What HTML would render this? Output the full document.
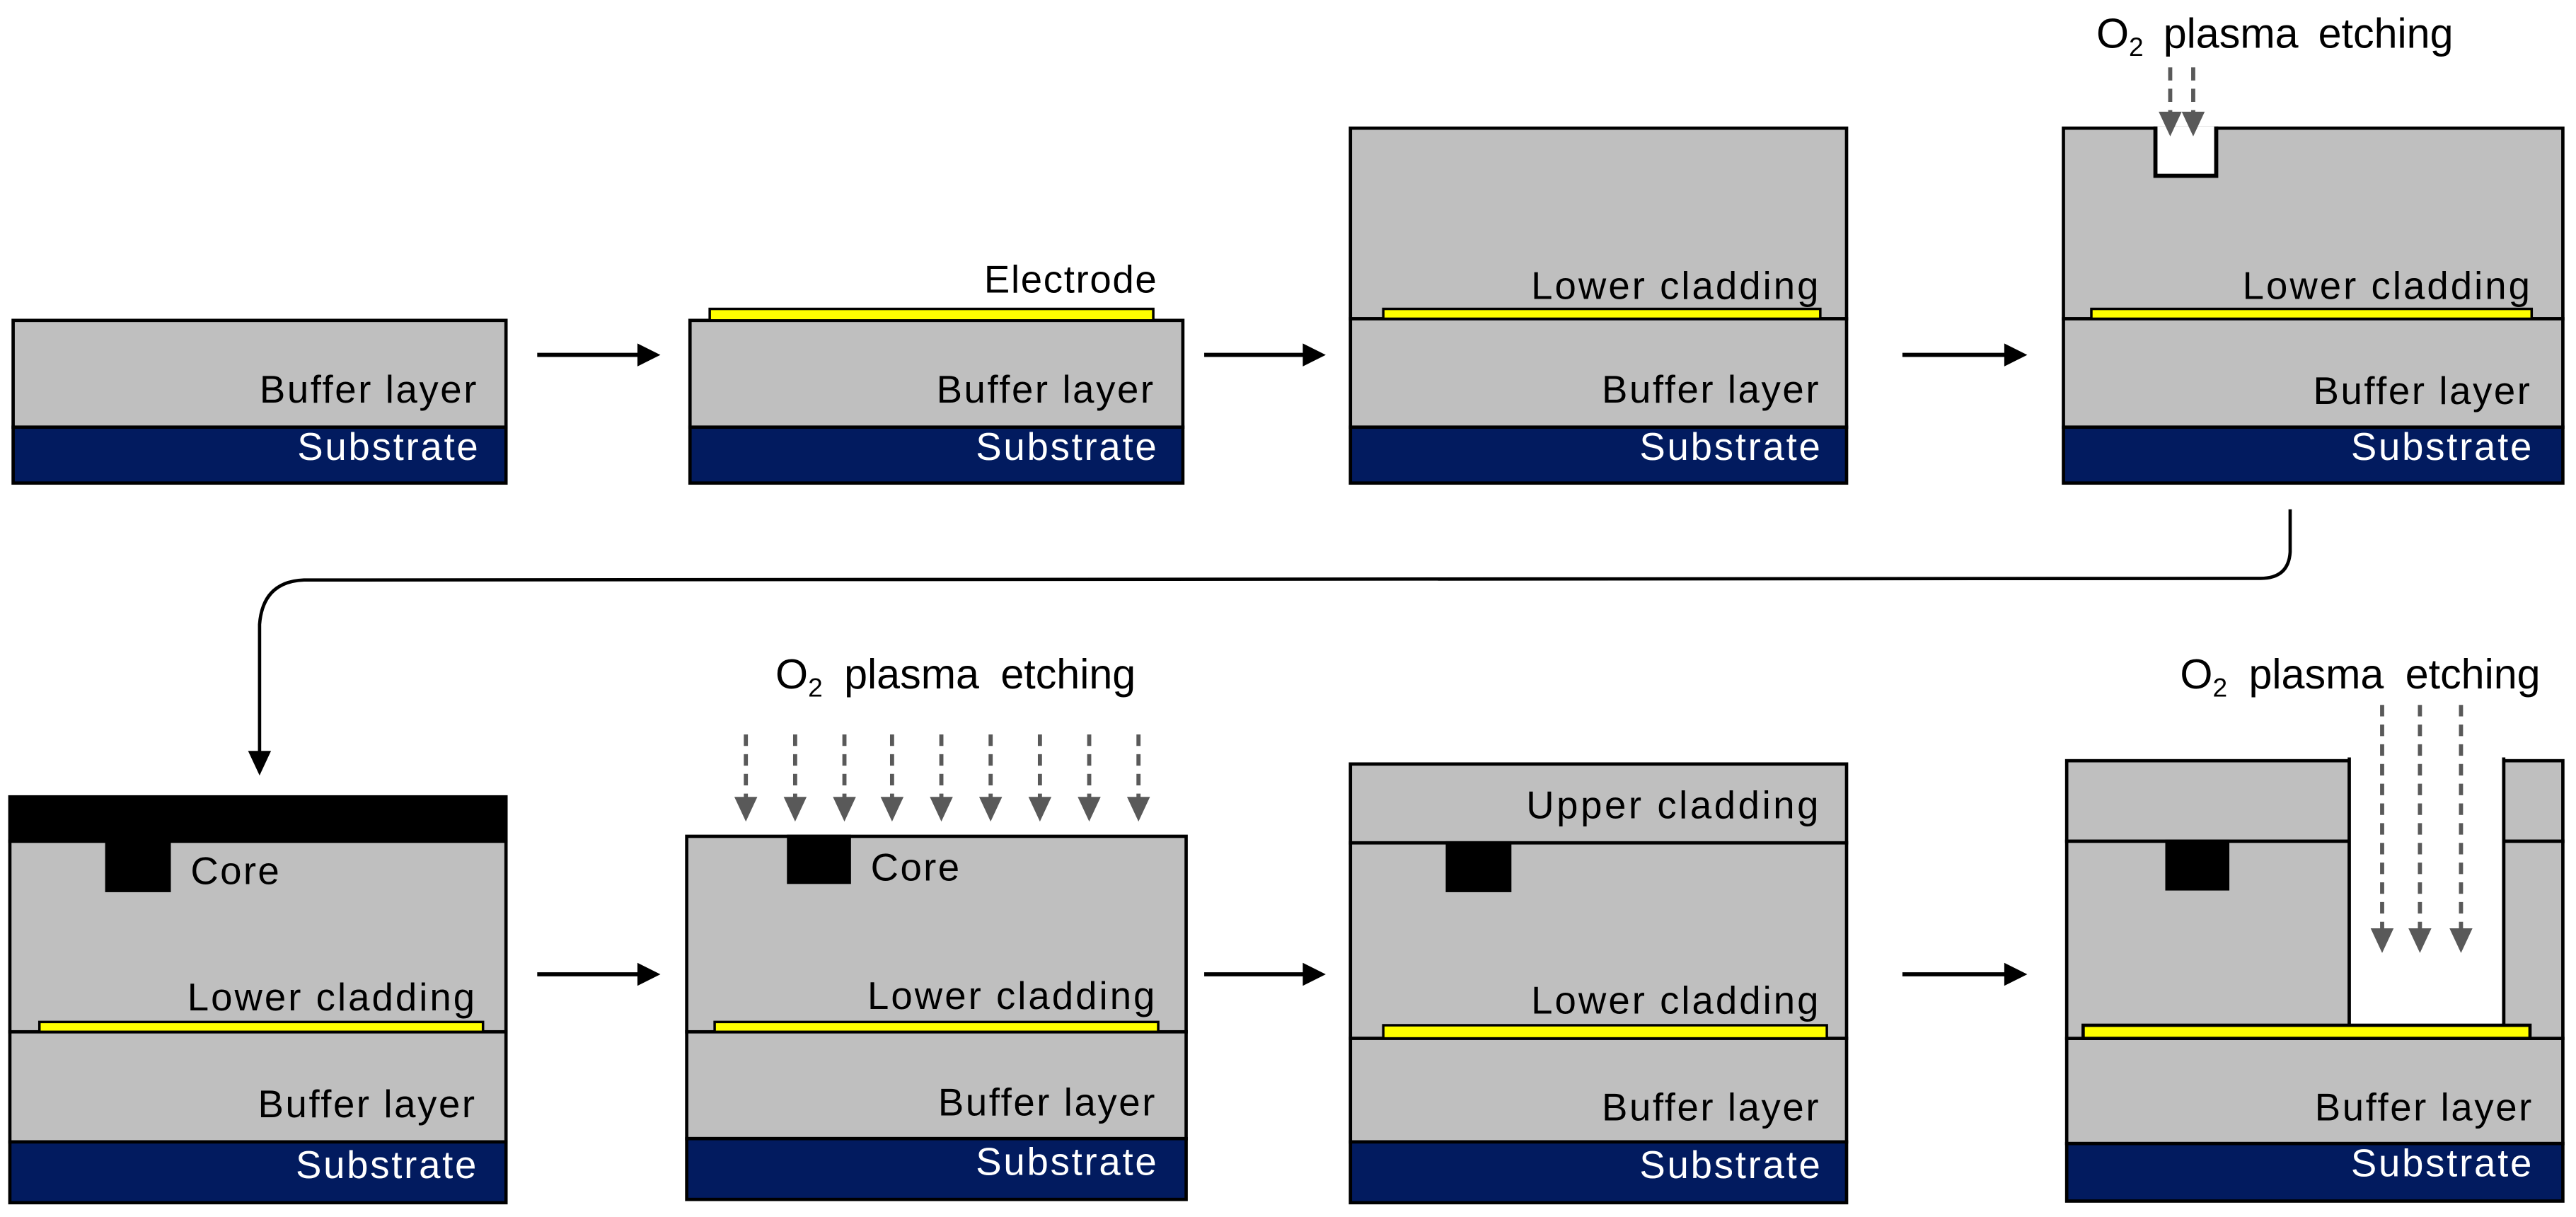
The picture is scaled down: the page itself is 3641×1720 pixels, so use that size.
<!DOCTYPE html>
<html><head><meta charset="utf-8"><style>
html,body{margin:0;padding:0;background:#fff}
svg{display:block}
text{font-family:"Liberation Sans",sans-serif;font-size:23.5px}
</style></head><body>
<svg width="3641" height="1720" viewBox="0 0 1568 740.7" preserveAspectRatio="none" xmlns="http://www.w3.org/2000/svg">
<defs>
<g id="da">
<line x1="0" y1="0" x2="0" y2="40" stroke="#595959" stroke-width="2.5" stroke-dasharray="7,5"/>
<polygon points="-7,38 7,38 0,53" fill="#595959"/>
</g>
</defs>
<g stroke="#000" stroke-width="2">
<rect x="8" y="195" width="300" height="65" fill="#bfbfbf"/>
<rect x="8" y="260" width="300" height="34" fill="#021b5f"/>
<rect x="420" y="195" width="300" height="65" fill="#bfbfbf"/>
<rect x="420" y="260" width="300" height="34" fill="#021b5f"/>
<rect x="432" y="188" width="270" height="7" fill="#ffff00" stroke-width="1.5"/>
<rect x="822" y="78" width="302" height="116" fill="#bfbfbf"/>
<rect x="822" y="194" width="302" height="66" fill="#bfbfbf"/>
<rect x="822" y="260" width="302" height="34" fill="#021b5f"/>
<rect x="842" y="188" width="266" height="6" fill="#ffff00" stroke-width="1.5"/>
<rect x="1256" y="78" width="304" height="116" fill="#bfbfbf"/>
<rect x="1256" y="194" width="304" height="66" fill="#bfbfbf"/>
<rect x="1256" y="260" width="304" height="34" fill="#021b5f"/>
<rect x="1273" y="188" width="268" height="6" fill="#ffff00" stroke-width="1.5"/>
<path d="M1312 77 L1312 107 L1349 107 L1349 77" fill="#fff" stroke-width="2.5"/>
<rect x="6" y="485" width="302" height="27" fill="#000"/>
<rect x="6" y="512" width="302" height="116" fill="#bfbfbf"/>
<rect x="6" y="628" width="302" height="67" fill="#bfbfbf"/>
<rect x="6" y="695" width="302" height="37" fill="#021b5f"/>
<rect x="24" y="622" width="270" height="6" fill="#ffff00" stroke-width="1.5"/>
<rect x="65" y="512" width="38" height="30" fill="#000"/>
<rect x="418" y="509" width="304" height="119" fill="#bfbfbf"/>
<rect x="418" y="628" width="304" height="65" fill="#bfbfbf"/>
<rect x="418" y="693" width="304" height="37" fill="#021b5f"/>
<rect x="435" y="622" width="270" height="6" fill="#ffff00" stroke-width="1.5"/>
<rect x="480" y="509" width="37" height="28" fill="#000"/>
<rect x="822" y="465" width="302" height="48" fill="#bfbfbf"/>
<rect x="822" y="513" width="302" height="119" fill="#bfbfbf"/>
<rect x="822" y="632" width="302" height="63" fill="#bfbfbf"/>
<rect x="822" y="695" width="302" height="37" fill="#021b5f"/>
<rect x="842" y="624" width="270" height="8" fill="#ffff00" stroke-width="1.5"/>
<rect x="881" y="513" width="38" height="29" fill="#000"/>
<rect x="1258" y="632" width="302" height="64" fill="#bfbfbf"/>
<rect x="1258" y="696" width="302" height="35" fill="#021b5f"/>
<rect x="1258" y="463" width="172" height="49" fill="#bfbfbf"/>
<rect x="1258" y="512" width="172" height="120" fill="#bfbfbf"/>
<rect x="1524" y="463" width="36" height="49" fill="#bfbfbf"/>
<rect x="1524" y="512" width="36" height="120" fill="#bfbfbf"/>
<rect x="1430" y="461" width="94" height="163" fill="#fff" stroke="none"/>
<line x1="1430" y1="461" x2="1430" y2="624"/>
<line x1="1524" y1="461" x2="1524" y2="624"/>
<rect x="1268" y="624" width="272" height="8" fill="#ffff00"/>
<rect x="1319" y="512" width="37" height="29" fill="#000"/>
</g>
<g stroke="#000" stroke-width="2.5" fill="#000">
<line x1="327" y1="216" x2="392" y2="216"/><polygon points="388,209 402,216 388,223" stroke="none"/>
<line x1="733" y1="216" x2="797" y2="216"/><polygon points="793,209 807,216 793,223" stroke="none"/>
<line x1="1158" y1="216" x2="1224" y2="216"/><polygon points="1220,209 1234,216 1220,223" stroke="none"/>
<line x1="327" y1="593" x2="392" y2="593"/><polygon points="388,586 402,593 388,600" stroke="none"/>
<line x1="733" y1="593" x2="797" y2="593"/><polygon points="793,586 807,593 793,600" stroke="none"/>
<line x1="1158" y1="593" x2="1224" y2="593"/><polygon points="1220,586 1234,593 1220,600" stroke="none"/>
<path d="M1394 310 L1394 336 Q1393 352 1376 352 L185 353 Q160 354 158 380 L158 458" fill="none" stroke-width="2"/>
<polygon points="151,457 165,457 158,472" stroke="none"/>
</g>
<g stroke="#595959" stroke-width="2.5" stroke-dasharray="8,5">
<line x1="1321" y1="41" x2="1321" y2="70"/>
<line x1="1335" y1="41" x2="1335" y2="70"/>
</g>
<polygon points="1314,68 1328,68 1321,83" fill="#595959"/>
<polygon points="1328,68 1342,68 1335,83" fill="#595959"/>
<g>
<use href="#da" x="454" y="447"/><use href="#da" x="484" y="447"/><use href="#da" x="514" y="447"/>
<use href="#da" x="543" y="447"/><use href="#da" x="573" y="447"/><use href="#da" x="603" y="447"/>
<use href="#da" x="633" y="447"/><use href="#da" x="663" y="447"/><use href="#da" x="693" y="447"/>
</g>
<g>
<line x1="1450" y1="429" x2="1450" y2="570" stroke="#595959" stroke-width="2.5" stroke-dasharray="7,5"/>
<line x1="1473" y1="429" x2="1473" y2="570" stroke="#595959" stroke-width="2.5" stroke-dasharray="7,5"/>
<line x1="1498" y1="429" x2="1498" y2="570" stroke="#595959" stroke-width="2.5" stroke-dasharray="7,5"/>
<polygon points="1443,565 1457,565 1450,580" fill="#595959"/>
<polygon points="1466,565 1480,565 1473,580" fill="#595959"/>
<polygon points="1491,565 1505,565 1498,580" fill="#595959"/>
</g>
<g text-anchor="end" fill="#000">
<text x="290" y="245" textLength="132">Buffer layer</text>
<text x="702" y="245" textLength="132">Buffer layer</text>
<text x="704" y="178" textLength="105">Electrode</text>
<text x="1107" y="182" textLength="175">Lower cladding</text>
<text x="1107" y="245" textLength="132">Buffer layer</text>
<text x="1540" y="182" textLength="175">Lower cladding</text>
<text x="1540" y="246" textLength="132">Buffer layer</text>
<text x="289" y="615" textLength="175">Lower cladding</text>
<text x="289" y="680" textLength="132">Buffer layer</text>
<text x="703" y="614" textLength="175">Lower cladding</text>
<text x="703" y="679" textLength="132">Buffer layer</text>
<text x="1107" y="498" textLength="178">Upper cladding</text>
<text x="1107" y="617" textLength="175">Lower cladding</text>
<text x="1107" y="682" textLength="132">Buffer layer</text>
<text x="1541" y="682" textLength="132">Buffer layer</text>
</g>
<g text-anchor="end" fill="#fff">
<text x="291" y="280" textLength="110">Substrate</text>
<text x="704" y="280" textLength="110">Substrate</text>
<text x="1108" y="280" textLength="110">Substrate</text>
<text x="1541" y="280" textLength="110">Substrate</text>
<text x="290" y="717" textLength="110">Substrate</text>
<text x="704" y="715" textLength="110">Substrate</text>
<text x="1108" y="717" textLength="110">Substrate</text>
<text x="1541" y="716" textLength="110">Substrate</text>
</g>
<g fill="#000">
<text x="116" y="538" textLength="54">Core</text>
<text x="530" y="536" textLength="54">Core</text>
<text x="1276" y="29" style="font-size:25.5px">O<tspan font-size="16" dy="5">2</tspan><tspan dy="-5" word-spacing="5"> plasma etching</tspan></text>
<text x="472" y="419" style="font-size:25.5px">O<tspan font-size="16" dy="5">2</tspan><tspan dy="-5" word-spacing="6"> plasma etching</tspan></text>
<text x="1327" y="419" style="font-size:25.5px">O<tspan font-size="16" dy="5">2</tspan><tspan dy="-5" word-spacing="6"> plasma etching</tspan></text>
</g>
</svg>
</body></html>
